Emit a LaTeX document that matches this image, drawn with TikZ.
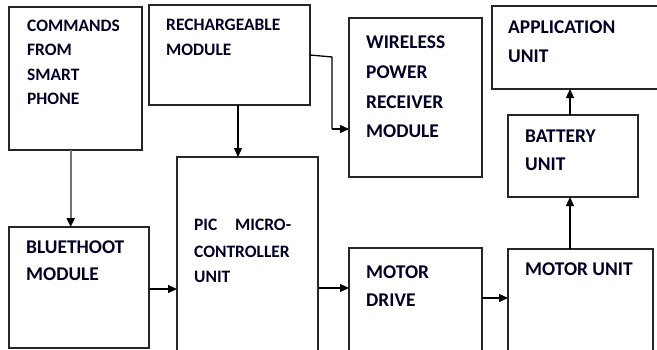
\documentclass[tikz,border=0pt]{standalone}
\usepackage{fontspec}
\setmainfont{Carlito}
\usetikzlibrary{arrows.meta}
\tikzset{
  blk/.style={draw=black!85, line width=1.4bp, inner sep=0pt, outer sep=0pt, fill=white},
  lbl/.style={anchor=base west, inner sep=0pt, font=\bfseries\fontsize{17.5}{20}\selectfont, text=black!85!blue},
  lblbig/.style={lbl, font=\bfseries\fontsize{19.5}{22}\selectfont},
  conn/.style={line width=1.3bp, draw=black, -{Triangle[length=9bp,width=8bp,color=black]}},
}
\newcommand{\mkbox}[5]{%
  \pgfmathsetmacro{\bw}{#4-#2}\pgfmathsetmacro{\bh}{#5-#3}%
  \node[blk, minimum width=\bw bp, minimum height=\bh bp] (#1) at ({(#2+#4)/2},{(#3+#5)/2}) {};}
\begin{document}
\begin{tikzpicture}[x=1bp,y=-1bp]
\useasboundingbox[fill=white] (0,0) rectangle (657,349);
% boxes
\mkbox{cmd}{9}{7}{142}{150}
\mkbox{rech}{149}{5}{310}{105}
\mkbox{pic}{177}{157}{318}{352}
\mkbox{wpr}{349}{18}{482}{177}
\mkbox{app}{492}{6}{664}{89}
\mkbox{bat}{508}{115}{638}{197}
\mkbox{blu}{9}{227}{149}{348}
\mkbox{mdr}{349}{248}{482}{352}
\mkbox{mot}{508}{249}{653}{352}
% labels
\node[lbl] (t1) at (27,31) {COMMANDS};
\node[lbl] (t2) at (27,55) {FROM};
\node[lbl] (t3) at (27,80) {SMART};
\node[lbl] (t4) at (27,104) {PHONE};
\node[lbl] (t5) at (166,30) {RECHARGEABLE};
\node[lbl] (t6) at (166,55) {MODULE};
\node[lblbig] (t7) at (366,48) {WIRELESS};
\node[lblbig] (t8) at (366,78) {POWER};
\node[lblbig] (t9) at (366,108) {RECEIVER};
\node[lblbig] (t10) at (366,137) {MODULE};
\node[lblbig] (t11) at (508,33) {APPLICATION};
\node[lblbig] (t12) at (508,62) {UNIT};
\node[lblbig] (t13) at (525,142) {BATTERY};
\node[lblbig] (t14) at (525,170) {UNIT};
\node[lbl] (t15) at (194,230) {PIC};
\node[lbl] (t15b) at (235,230) {MICRO-};
\node[lbl] (t16) at (194,257) {CONTROLLER};
\node[lbl] (t17) at (194,282) {UNIT};
\node[lblbig] (t18) at (26,253) {BLUETHOOT};
\node[lblbig] (t19) at (26,280) {MODULE};
\node[lblbig] (t20) at (366,278) {MOTOR};
\node[lblbig] (t21) at (366,306) {DRIVE};
\node[lblbig] (t22) at (525,275) {MOTOR UNIT};
% connectors
\coordinate (c1) at (332,57);
\coordinate (c2) at (332,129);
\draw[conn, draw=black!55, line width=2.2bp] (cmd.south -| 70.7,0) -- (blu.north -| 70.7,0);
\draw[conn] (rech.south -| 238,0) -- (pic.north -| 238,0);
\draw[line width=1.3bp] (rech.east |- 0,55) -- (c1) -- (c2);
\draw[conn] (c2) -- (wpr.west |- c2);
\draw[conn] (blu.east |- 0,289) -- (pic.west |- 0,289);
\draw[conn] (pic.east |- 0,288) -- (mdr.west |- 0,288);
\draw[conn] (mdr.east |- 0,298) -- (mot.west |- 0,298);
\draw[conn] (mot.north -| 570,0) -- (bat.south -| 570,0);
\draw[conn] (bat.north -| 570,0) -- (app.south -| 570,0);
\end{tikzpicture}
\end{document}
